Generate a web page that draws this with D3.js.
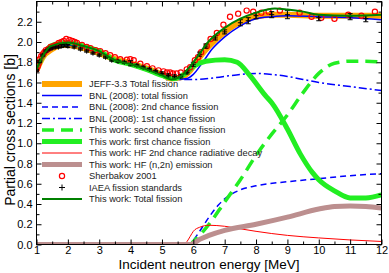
<!DOCTYPE html>
<html>
<head>
<meta charset="utf-8">
<script src="https://cdn.jsdelivr.net/npm/d3@7"></script>
<style>
  body { margin: 0; background: #fff; }
  svg { display: block; font-family: "Liberation Sans", Arial, sans-serif; }
</style>
</head>
<body>
<div class="chart"></div>
<script>
// energies in MeV, cross sections in barns
const jeffTotal = [[1,1.72],[1.2,1.85],[1.5,1.93],[1.8,1.97],[2,1.97],[2.5,1.94],[3,1.89],[3.5,1.83],[4,1.79],[4.5,1.74],[5,1.68],[5.3,1.64],[5.6,1.65],[5.9,1.72],[6.2,1.85],[6.5,1.96],[7,2.10],[7.5,2.20],[8,2.25],[8.5,2.27],[9,2.27],[10,2.26],[11,2.26],[12,2.26]];
const bnlTotal = [[1,1.72],[1.2,1.85],[1.5,1.93],[1.8,1.97],[2,1.97],[2.5,1.94],[3,1.89],[3.5,1.83],[4,1.79],[4.5,1.74],[5,1.68],[5.4,1.63],[5.8,1.64],[6,1.68],[6.3,1.80],[6.6,1.93],[7,2.05],[7.5,2.16],[8,2.23],[8.5,2.25],[9,2.26],[10,2.25],[11,2.24],[12,2.22]];
const bnlSecond = [[1,0],[5.9,0],[6,0.04],[6.2,0.13],[6.5,0.27],[6.8,0.39],[7,0.45],[7.5,0.54],[8,0.58],[9,0.62],[10,0.65],[11,0.68],[12,0.70]];
const bnlFirst = [[5.2,1.64],[5.6,1.63],[6,1.63],[6.5,1.64],[7,1.66],[7.5,1.68],[8,1.69],[8.5,1.68],[9,1.66],[9.5,1.63],[10,1.60],[11,1.56],[12,1.52]];
const secondChance = [[1,0],[5.9,0],[6,0.03],[6.2,0.09],[6.5,0.2],[7,0.42],[7.5,0.64],[8,0.88],[8.5,1.09],[9,1.28],[9.5,1.50],[10,1.69],[10.5,1.79],[11,1.81],[11.5,1.81],[12,1.80]];
const firstChance = [[1,1.73],[1.2,1.86],[1.45,1.96],[2,1.995],[2.5,1.96],[3,1.91],[3.5,1.82],[4,1.78],[4.5,1.73],[5,1.67],[5.4,1.64],[5.7,1.68],[6,1.76],[6.4,1.81],[7,1.825],[7.4,1.80],[7.8,1.67],[8.3,1.47],[8.5,1.40],[9,1.14],[9.4,0.90],[9.8,0.71],[10,0.64],[10.5,0.53],[11,0.46],[11.5,0.46],[12,0.49]];
const hfRadDecay = [[1,0],[5.7,0],[5.8,0.03],[5.9,0.08],[6,0.13],[6.2,0.17],[6.5,0.19],[7,0.18],[7.5,0.155],[8,0.13],[9,0.09],[10,0.065],[11,0.045],[12,0.03]];
const hfN2n = [[1,0],[5.9,0],[6,0.01],[6.2,0.05],[6.5,0.09],[7,0.14],[8,0.2],[9,0.27],[10,0.35],[10.5,0.375],[11,0.38],[11.5,0.375],[12,0.36]];
const thisTotal = [[1,1.73],[1.2,1.86],[1.45,1.96],[2,1.995],[2.5,1.96],[3,1.91],[3.5,1.82],[4,1.78],[4.5,1.73],[5,1.67],[5.3,1.63],[5.6,1.66],[6,1.80],[6.5,2.01],[7,2.14],[7.5,2.23],[8,2.29],[8.6,2.33],[9,2.32],[9.5,2.30],[10,2.27],[11,2.26],[12,2.27]];

const sherbakov = [[1.0,1.73],[1.04,1.76],[1.07,1.79],[1.1,1.83],[1.15,1.86],[1.2,1.88],[1.25,1.90],[1.3,1.92],[1.37,1.93],[1.45,1.95],[1.55,1.96],[1.63,1.97],[1.71,1.99],[1.8,2.0],[1.87,2.01],[1.95,2.03],[2.05,2.02],[2.14,2.01],[2.22,2.0],[2.29,1.99],[2.45,1.97],[2.6,1.95],[2.72,1.94],[2.88,1.92],[3.03,1.91],[3.2,1.89],[3.35,1.87],[3.5,1.85],[3.67,1.83],[3.88,1.825],[3.99,1.83],[4.1,1.82],[4.31,1.785],[4.52,1.76],[4.7,1.74],[4.89,1.72],[5.05,1.71],[5.16,1.70],[5.26,1.70],[5.35,1.69],[5.47,1.69],[5.6,1.70],[5.79,1.73],[5.9,1.75],[6.05,1.82],[6.15,1.85],[6.25,1.90],[6.43,1.96],[6.55,2.03],[6.75,2.09],[6.96,2.17],[7.17,2.25],[7.43,2.28],[7.70,2.31],[7.91,2.30],[8.17,2.29],[8.4,2.30],[8.76,2.31],[9.39,2.29],[9.77,2.25],[10.08,2.24],[10.5,2.23],[10.94,2.27],[11.36,2.26],[11.79,2.30]];
// [E, sigma, error]
const iaea = [[1.0,1.72,0.01],[1.1,1.81,0.01],[1.2,1.87,0.01],[1.3,1.91,0.01],[1.4,1.93,0.01],[1.5,1.94,0.01],[1.6,1.95,0.01],[1.7,1.95,0.01],[1.8,1.96,0.015],[1.9,1.97,0.015],[2.0,1.96,0.015],[2.2,1.95,0.01],[2.4,1.93,0.01],[2.6,1.91,0.01],[2.8,1.89,0.01],[3.0,1.87,0.01],[3.2,1.85,0.01],[3.4,1.82,0.01],[3.6,1.81,0.01],[3.8,1.80,0.01],[4.0,1.79,0.025],[4.2,1.77,0.01],[4.4,1.75,0.01],[4.6,1.73,0.01],[4.8,1.71,0.01],[5.0,1.69,0.015],[5.2,1.67,0.015],[5.4,1.66,0.015],[5.6,1.66,0.015],[5.8,1.70,0.015],[6.0,1.78,0.02],[6.2,1.88,0.02],[6.4,1.96,0.02],[6.7,2.04,0.02],[7.0,2.10,0.02],[7.5,2.19,0.03],[7.75,2.21,0.03],[8.0,2.26,0.03],[8.5,2.27,0.03],[9.0,2.27,0.04],[10.0,2.24,0.03],[11.0,2.25,0.03],[11.5,2.23,0.03]];

const xMajor = [1,2,3,4,5,6,7,8,9,10,11,12];
const xMinor = [1.5,2.5,3.5,4.5,5.5,6.5,7.5,8.5,9.5,10.5,11.5];
const yMajor = [0,0.2,0.4,0.6,0.8,1.0,1.2,1.4,1.6,1.8,2.0,2.2,2.4];
const yMinor = [0.1,0.3,0.5,0.7,0.9,1.1,1.3,1.5,1.7,1.9,2.1,2.3];

const legendLabels = [
    "JEFF-3.3 Total fission",
    "BNL (2008): total fission",
    "BNL (2008): 2nd chance fission",
    "BNL (2008): 1st chance fission",
    "This work: second chance fission",
    "This work: first chance fission",
    "This work: HF 2nd chance radiative decay",
    "This work: HF (n,2n) emission",
    "Sherbakov 2001",
    "IAEA fission standards",
    "This work: Total fission"
];

const width = 389;
const height = 273;
const plotLeft = 36.5, plotRight = 381.5, plotTop = 1.5, plotBottom = 244.5;

const svg = d3.select("div.chart")
    .append("svg")
    .attr("width", width)
    .attr("height", height);

const x = d3.scaleLinear().domain([1, 12]).range([plotLeft, plotRight]);
const y = d3.scaleLinear().domain([0, 2.4]).range([plotBottom, plotTop]);

svg.append("clipPath").attr("id", "clip")
    .append("rect")
    .attr("x", plotLeft).attr("y", plotTop)
    .attr("width", plotRight - plotLeft).attr("height", plotBottom - plotTop);

const line = d3.line()
    .x(function(d) { return x(d[0]); })
    .y(function(d) { return y(d[1]); })
    .curve(d3.curveMonotoneX);

const styles = [
    {data: jeffTotal, color: "#ffa500", w: 6, dash: null},
    {data: bnlTotal, color: "#0000ff", w: 1.5, dash: null},
    {data: bnlSecond, color: "#0000ff", w: 1.5, dash: "6,4"},
    {data: bnlFirst, color: "#0000ff", w: 1.5, dash: "8,3,2,3"},
    {data: secondChance, color: "#22ee22", w: 3.5, dash: "12,7"},
    {data: firstChance, color: "#22ee22", w: 5, dash: null},
    {data: hfRadDecay, color: "#ff0000", w: 1, dash: null},
    {data: hfN2n, color: "#bc8f8f", w: 5, dash: null},
    null,
    null,
    {data: thisTotal, color: "#008000", w: 2, dash: null}
];

const plot = svg.append("g").attr("clip-path", "url(#clip)");

// lines under the data points
for (let i = 0; i < 8; i++) {
    let s = styles[i];
    plot.append("path")
        .datum(s.data)
        .attr("fill", "none")
        .attr("stroke", s.color)
        .attr("stroke-width", s.w)
        .attr("stroke-dasharray", s.dash)
        .attr("d", line);
}

plot.append("g")
    .selectAll("circle")
    .data(sherbakov)
    .enter()
    .append("circle")
    .attr("cx", function(d) { return x(d[0]); })
    .attr("cy", function(d) { return y(d[1]); })
    .attr("r", 2.6)
    .attr("fill", "none")
    .attr("stroke", "#ff0000")
    .attr("stroke-width", 1.2);

const iaeaG = plot.append("g").attr("stroke", "#000").attr("stroke-width", 1);
iaea.forEach(function(d) {
    let cx = x(d[0]), cy = y(d[1]);
    let y0 = y(d[1] - d[2]), y1 = y(d[1] + d[2]);
    iaeaG.append("line").attr("x1", cx).attr("x2", cx).attr("y1", y0).attr("y2", y1);
    iaeaG.append("line").attr("x1", cx - 2.5).attr("x2", cx + 2.5).attr("y1", y0).attr("y2", y0);
    iaeaG.append("line").attr("x1", cx - 2.5).attr("x2", cx + 2.5).attr("y1", y1).attr("y2", y1);
    iaeaG.append("line").attr("x1", cx - 2.5).attr("x2", cx + 2.5).attr("y1", cy).attr("y2", cy);
    iaeaG.append("line").attr("x1", cx).attr("x2", cx).attr("y1", cy - 2.5).attr("y2", cy + 2.5);
});

plot.append("path")
    .datum(thisTotal)
    .attr("fill", "none")
    .attr("stroke", styles[10].color)
    .attr("stroke-width", styles[10].w)
    .attr("d", line);

// axes, ticks pointing inward
function noDomain(g) { g.select(".domain").remove(); }

svg.append("g").attr("transform", "translate(0," + plotBottom + ")")
    .call(d3.axisBottom(x).tickValues(xMajor).tickSize(-5).tickPadding(2).tickFormat(d3.format("d")))
    .call(noDomain);
svg.append("g").attr("transform", "translate(0," + plotBottom + ")")
    .call(d3.axisBottom(x).tickValues(xMinor).tickSize(-3).tickFormat(""))
    .call(noDomain);
svg.append("g").attr("transform", "translate(0," + plotTop + ")")
    .call(d3.axisTop(x).tickValues(xMajor).tickSize(-5).tickFormat(""))
    .call(noDomain);
svg.append("g").attr("transform", "translate(0," + plotTop + ")")
    .call(d3.axisTop(x).tickValues(xMinor).tickSize(-3).tickFormat(""))
    .call(noDomain);
svg.append("g").attr("transform", "translate(" + plotLeft + ",0)")
    .call(d3.axisLeft(y).tickValues(yMajor.slice(0, 12)).tickSize(-5).tickPadding(4).tickFormat(d3.format(".1f")))
    .call(noDomain);
svg.append("g").attr("transform", "translate(" + plotLeft + ",0)")
    .call(d3.axisLeft(y).tickValues(yMinor).tickSize(-3).tickFormat(""))
    .call(noDomain);
svg.append("g").attr("transform", "translate(" + plotRight + ",0)")
    .call(d3.axisRight(y).tickValues(yMajor).tickSize(-5).tickFormat(""))
    .call(noDomain);
svg.append("g").attr("transform", "translate(" + plotRight + ",0)")
    .call(d3.axisRight(y).tickValues(yMinor).tickSize(-3).tickFormat(""))
    .call(noDomain);

svg.selectAll(".tick text")
    .attr("font-size", 11)
    .attr("font-family", "Liberation Sans, Arial, sans-serif")
    .attr("fill", "#000");
svg.selectAll(".tick line").attr("stroke", "#000");

svg.append("rect")
    .attr("x", plotLeft).attr("y", plotTop)
    .attr("width", plotRight - plotLeft).attr("height", plotBottom - plotTop)
    .attr("fill", "none")
    .attr("stroke", "#000")
    .attr("stroke-width", 1);

svg.append("text")
    .attr("x", (plotLeft + plotRight) / 2)
    .attr("y", 269)
    .attr("text-anchor", "middle")
    .attr("font-size", 13.5)
    .text("Incident neutron energy [MeV]");

svg.append("text")
    .attr("transform", "translate(15,130) rotate(-90)")
    .attr("text-anchor", "middle")
    .attr("font-size", 14)
    .text("Partial cross sections [b]");

// legend
const legend = svg.append("g");
const lx0 = 42, lx1 = 82, ltx = 89;
legendLabels.forEach(function(label, i) {
    let ly = 84 + i * 11.5;
    let s = styles[i];
    if (s) {
        legend.append("line")
            .attr("x1", lx0).attr("x2", lx1)
            .attr("y1", ly).attr("y2", ly)
            .attr("stroke", s.color)
            .attr("stroke-width", s.w)
            .attr("stroke-dasharray", s.dash);
    } else if (i === 8) {
        legend.append("circle")
            .attr("cx", 62).attr("cy", ly).attr("r", 2.6)
            .attr("fill", "none").attr("stroke", "#ff0000").attr("stroke-width", 1.2);
    } else {
        legend.append("line").attr("x1", 59).attr("x2", 65).attr("y1", ly).attr("y2", ly).attr("stroke", "#000");
        legend.append("line").attr("x1", 62).attr("x2", 62).attr("y1", ly - 3).attr("y2", ly + 3).attr("stroke", "#000");
    }
    legend.append("text")
        .attr("x", ltx)
        .attr("y", ly)
        .attr("dy", "0.35em")
        .attr("font-size", 9.3)
        .attr("fill", "#222")
        .text(label);
});
</script>
</body>
</html>
